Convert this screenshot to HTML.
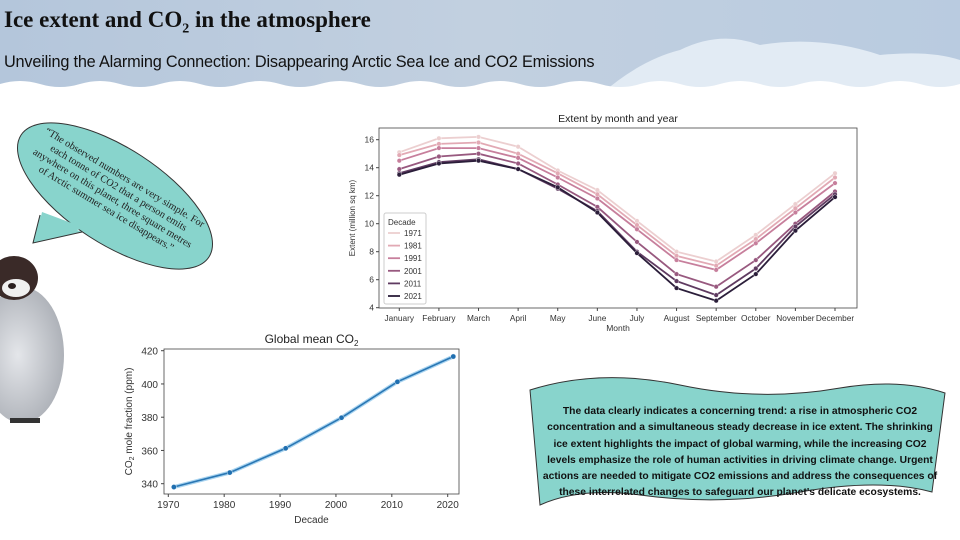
<!DOCTYPE html>
<html><head><meta charset="utf-8"><style>
body{margin:0;width:960px;height:540px;overflow:hidden;background:#fff;font-family:"Liberation Sans",sans-serif;position:relative}
.abs{position:absolute}
</style></head><body>
<svg class="abs" style="left:0;top:0" width="960" height="540">
<defs>
<linearGradient id="sky" x1="0" y1="0" x2="1" y2="0"><stop offset="0" stop-color="#b4c6db"/><stop offset="0.5" stop-color="#c2d0e0"/><stop offset="1" stop-color="#b9cbe0"/></linearGradient>
<radialGradient id="peng" cx="0.45" cy="0.5" r="0.6"><stop offset="0" stop-color="#e4e6ea"/><stop offset="1" stop-color="#a9adb4"/></radialGradient>
</defs>
<g>
<rect x="0" y="0" width="960" height="95" fill="url(#sky)"/>
<path d="M600 95 Q640 60 680 50 Q720 30 760 45 Q820 35 880 55 Q930 50 960 60 L960 95Z" fill="#e2ebf4"/>
<path d="M0 84 Q20 78 40 84 T80 84 T120 84 T160 84 T200 84 T240 84 T280 84 T320 84 T360 84 T400 84 T440 84 T480 84 T520 84 T560 84 T600 84 T640 84 T680 84 T720 84 T760 84 T800 84 T840 84 T880 84 T920 84 T960 84 L960 100 L0 100Z" fill="#fff"/>
</g>
<g>
<ellipse cx="115" cy="196" rx="112" ry="48" transform="rotate(33 115 196)" fill="#88d4cc" stroke="#333" stroke-width="1"/>
<path d="M40 215 L33 243 L82 232" fill="#88d4cc" stroke="#333" stroke-width="1"/>
<path d="M42 212 L36 240 L85 228 Z" fill="#88d4cc"/>
</g>
<g>
<ellipse cx="22" cy="355" rx="42" ry="68" fill="url(#peng)"/>
<ellipse cx="14" cy="278" rx="24" ry="22" fill="#3a2a28"/>
<ellipse cx="16" cy="288" rx="14" ry="9" fill="#f0f0f0"/>
<ellipse cx="12" cy="286" rx="4" ry="3" fill="#2a1f1f"/>
<rect x="10" y="418" width="30" height="5" fill="#333"/>
</g>
<g>
<path d="M530 390 Q600 368 680 385 Q760 402 840 388 Q900 378 945 393 L932 492 Q880 478 800 492 Q720 506 640 495 Q580 487 540 505 Z" fill="#88d4cc" stroke="#333" stroke-width="1"/>
</g>
</svg>
<div class="abs" style="left:4px;top:7px;font-family:'Liberation Serif',serif;font-weight:bold;font-size:23px;color:#111">Ice extent and CO<sub style="font-size:14px">2</sub> in the atmosphere</div>
<div class="abs" style="left:4px;top:53px;font-size:16.3px;color:#111;letter-spacing:-0.2px">Unveiling the Alarming Connection: Disappearing Arctic Sea Ice and CO2 Emissions</div>
<div class="abs" style="left:15px;top:170px;width:200px;transform:rotate(31deg);transform-origin:center;font-family:'Liberation Serif',serif;font-size:10.3px;line-height:12px;text-align:center;color:#222;white-space:nowrap">“The observed numbers are very simple. For<br>each tonne of CO2 that a person emits<br>anywhere on this planet, three square metres<br>of Arctic summer sea ice disappears.”</div>
<div class="abs" style="left:540px;top:404px;width:400px;font-size:10.3px;font-weight:bold;line-height:16.3px;text-align:center;color:#111">The data clearly indicates a concerning trend: a rise in atmospheric CO2 concentration and a simultaneous steady decrease in ice extent. The shrinking ice extent highlights the impact of global warming, while the increasing CO2 levels emphasize the role of human activities in driving climate change. Urgent actions are needed to mitigate CO2 emissions and address the consequences of these interrelated changes to safeguard our planet's delicate ecosystems.</div>

<svg class="abs" id="ext" style="left:0;top:0" width="960" height="540"></svg>
<svg class="abs" id="co2" style="left:0;top:0" width="960" height="540"></svg>
<script>
const months=["January","February","March","April","May","June","July","August","September","October","November","December"];
const decades=["1971","1981","1991","2001","2011","2021"];
const ext1971=[15.1,16.1,16.2,15.5,13.8,12.4,10.2,8.0,7.3,9.2,11.4,13.6];
const ext1981=[14.9,15.7,15.8,15.0,13.6,12.1,9.9,7.7,7.0,8.9,11.1,13.3];
const ext1991=[14.5,15.4,15.4,14.7,13.3,11.8,9.6,7.4,6.7,8.6,10.8,12.9];
const ext2001=[13.9,14.8,15.0,14.3,12.8,11.2,8.7,6.4,5.5,7.4,10.0,12.3];
const ext2011=[13.6,14.4,14.6,13.9,12.5,10.9,8.0,5.9,4.9,6.8,9.8,12.1];
const ext2021=[13.5,14.3,14.5,13.9,12.6,10.8,7.9,5.4,4.5,6.4,9.5,11.9];
const extTicks=[4,6,8,10,12,14,16];
const co2Years=[1971,1981,1991,2001,2011,2021];
const co2Vals=[338.0,346.7,361.3,379.7,401.3,416.5];
const co2YTicks=[340,360,380,400,420];
const co2XTicks=[1970,1980,1990,2000,2010,2020];

const NS="http://www.w3.org/2000/svg";
function mk(p,t,a,txt){const e=document.createElementNS(NS,t);for(const k in a)e.setAttribute(k,a[k]);if(txt!==undefined)e.textContent=txt;p.appendChild(e);return e;}

(function(){
const s=document.getElementById('ext');
const L=379,R=857,T=128,B=308;
const x=i=>399.3+i*(835-399.3)/11;
const y=v=>307.7-(v-4)*14;
mk(s,'rect',{x:L,y:T,width:R-L,height:B-T,fill:'#fff',stroke:'#444','stroke-width':0.8});
let t=mk(s,'text',{x:(L+R)/2,y:122,'text-anchor':'middle','font-size':10.5,fill:'#222'},'Extent by month and year');

extTicks.forEach(v=>{mk(s,'line',{x1:L-3,x2:L,y1:y(v),y2:y(v),stroke:'#444'});
 const e=mk(s,'text',{x:L-5,y:y(v)+3,'text-anchor':'end','font-size':8.5,fill:'#333'},v);
 });
months.forEach((m,i)=>{mk(s,'line',{x1:x(i),x2:x(i),y1:B,y2:B+3,stroke:'#444'});
 const e=mk(s,'text',{x:x(i),y:B+13,'text-anchor':'middle','font-size':8.3,fill:'#333'},m);
 });
t=mk(s,'text',{x:(L+R)/2,y:331,'text-anchor':'middle','font-size':8.5,fill:'#333'},'Month');

t=mk(s,'text',{x:0,y:0,'text-anchor':'middle','font-size':8,fill:'#333',transform:`translate(${L-24},${(T+B)/2}) rotate(-90)`},'Extent (million sq km)');

const series=[ext1971,ext1981,ext1991,ext2001,ext2011,ext2021];
const cols=['#eccfd0','#e2a9b4','#c77f9c','#98597f','#5f3b61','#2b1e3a'];
series.forEach((d,k)=>{
 const p=mk(s,'polyline',{points:d.map((v,i)=>x(i)+','+y(v)).join(' '),fill:'none',stroke:cols[k],'stroke-width':1.8});
 
 d.forEach((v,i)=>{const c=mk(s,'circle',{cx:x(i),cy:y(v),r:2.3,fill:cols[k],stroke:'#fff','stroke-width':0.4});
  });
});
const lg=mk(s,'g',{});
mk(lg,'rect',{x:384,y:213,width:42,height:91,fill:'#fff',stroke:'#ccc',rx:2});
mk(lg,'text',{x:388,y:225,'font-size':8,fill:'#333'},'Decade');
decades.forEach((d,k)=>{const yy=236+k*12.6;
 const g=mk(lg,'g',{});
 mk(g,'line',{x1:388,x2:400,y1:yy-3,y2:yy-3,stroke:cols[k],'stroke-width':1.8});
 mk(g,'text',{x:404,y:yy,'font-size':8,fill:'#333'},d);});
})();

(function(){
const s=document.getElementById('co2');
const L=164,R=459,T=349,B=494;
const x=v=>168.3+(v-1970)*5.588;
const y=v=>483.7-(v-340)*1.6625;
mk(s,'rect',{x:L,y:T,width:R-L,height:B-T,fill:'#fff',stroke:'#444','stroke-width':0.8});
let t=mk(s,'text',{x:(L+R)/2,y:343,'text-anchor':'middle','font-size':12,fill:'#222'});
t.innerHTML='Global mean CO<tspan font-size="8" dy="3">2</tspan>';

co2YTicks.forEach(v=>{mk(s,'line',{x1:L-3,x2:L,y1:y(v),y2:y(v),stroke:'#444'});
 const e=mk(s,'text',{x:L-6,y:y(v)+4,'text-anchor':'end','font-size':10,fill:'#333'},v);
 });
co2XTicks.forEach(v=>{mk(s,'line',{x1:x(v),x2:x(v),y1:B,y2:B+3,stroke:'#444'});
 const e=mk(s,'text',{x:x(v),y:B+14,'text-anchor':'middle','font-size':10,fill:'#333'},v);
 });
t=mk(s,'text',{x:(L+R)/2,y:523,'text-anchor':'middle','font-size':10,fill:'#333'},'Decade');

t=mk(s,'text',{x:0,y:0,'text-anchor':'middle','font-size':10,fill:'#333',transform:`translate(${L-32},${(T+B)/2}) rotate(-90)`});
t.innerHTML='CO<tspan font-size="7" dy="2">2</tspan><tspan dy="-2"> mole fraction (ppm)</tspan>';

const pts=co2Years.map((v,i)=>x(v)+','+y(co2Vals[i])).join(' ');
mk(s,'polyline',{points:pts,fill:'none',stroke:'#a9d4f0','stroke-width':4});
const p=mk(s,'polyline',{points:pts,fill:'none',stroke:'#2a77b4','stroke-width':1.6});

co2Years.forEach((v,i)=>{const c=mk(s,'circle',{cx:x(v),cy:y(co2Vals[i]),r:2.6,fill:'#1f6fb0',stroke:'#fff','stroke-width':0.4});
 });
})();
</script>
</body></html>
